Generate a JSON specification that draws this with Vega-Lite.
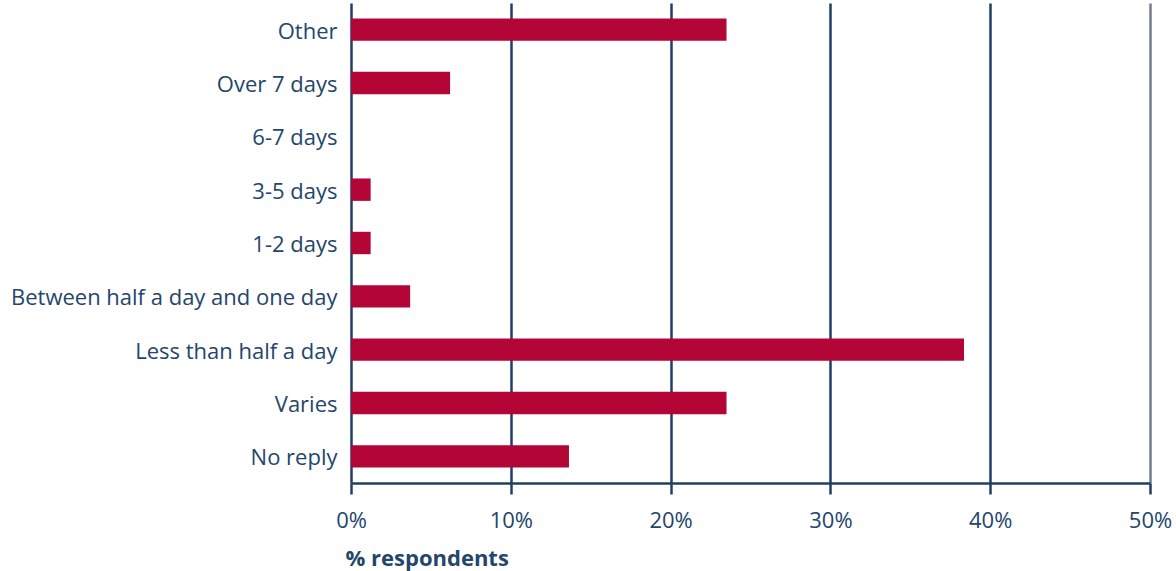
{
  "$schema": "https://vega.github.io/schema/vega-lite/v6.json",
  "autosize": {"type": "none"},
  "padding": {"left": 351, "top": 3, "right": 26, "bottom": 88},
  "width": 799,
  "height": 480,
  "data": {
    "values": [
      {"category": "Other", "pct": 23.5},
      {"category": "Over 7 days", "pct": 6.2},
      {"category": "6-7 days", "pct": 0},
      {"category": "3-5 days", "pct": 1.23},
      {"category": "1-2 days", "pct": 1.23},
      {"category": "Between half a day and one day", "pct": 3.7},
      {"category": "Less than half a day", "pct": 38.36},
      {"category": "Varies", "pct": 23.5},
      {"category": "No reply", "pct": 13.64}
    ]
  },
  "mark": {"type": "bar", "color": "#B40537"},
  "encoding": {
    "y": {
      "field": "category",
      "type": "nominal",
      "sort": null,
      "scale": {"paddingInner": 0.58, "paddingOuter": 0.29},
      "axis": {
        "title": null,
        "domain": false,
        "ticks": false,
        "grid": false,
        "labelFont": "Open Sans",
        "labelFontSize": 22,
        "labelColor": "#24466B",
        "labelPadding": 14,
        "labelOffset": 2,
        "labelLimit": 400
      }
    },
    "x": {
      "field": "pct",
      "type": "quantitative",
      "scale": {"domain": [0, 50], "nice": false},
      "axis": {
        "values": [0, 10, 20, 30, 40, 50],
        "labelExpr": "datum.value + '%'",
        "labelFlush": false,
        "title": "% respondents",
        "titleAnchor": "start",
        "titleAlign": "left",
        "titleX": -6,
        "titleFont": "Open Sans",
        "titleFontSize": 22,
        "titleFontWeight": "bold",
        "titleColor": "#24466B",
        "titlePadding": 17,
        "labelFont": "Open Sans",
        "labelFontSize": 22,
        "labelColor": "#24466B",
        "labelPadding": 16,
        "tickSize": 11,
        "tickWidth": 2.5,
        "tickColor": "#1F3F63",
        "domainColor": "#1F3F63",
        "domainWidth": 2.5,
        "grid": true,
        "gridWidth": 2.5,
        "gridColor": {"condition": {"test": "datum.value == 50", "value": "#737D8B"}, "value": "#1F3F63"}
      }
    }
  },
  "config": {
    "view": {"stroke": null},
    "background": "white"
  }
}
